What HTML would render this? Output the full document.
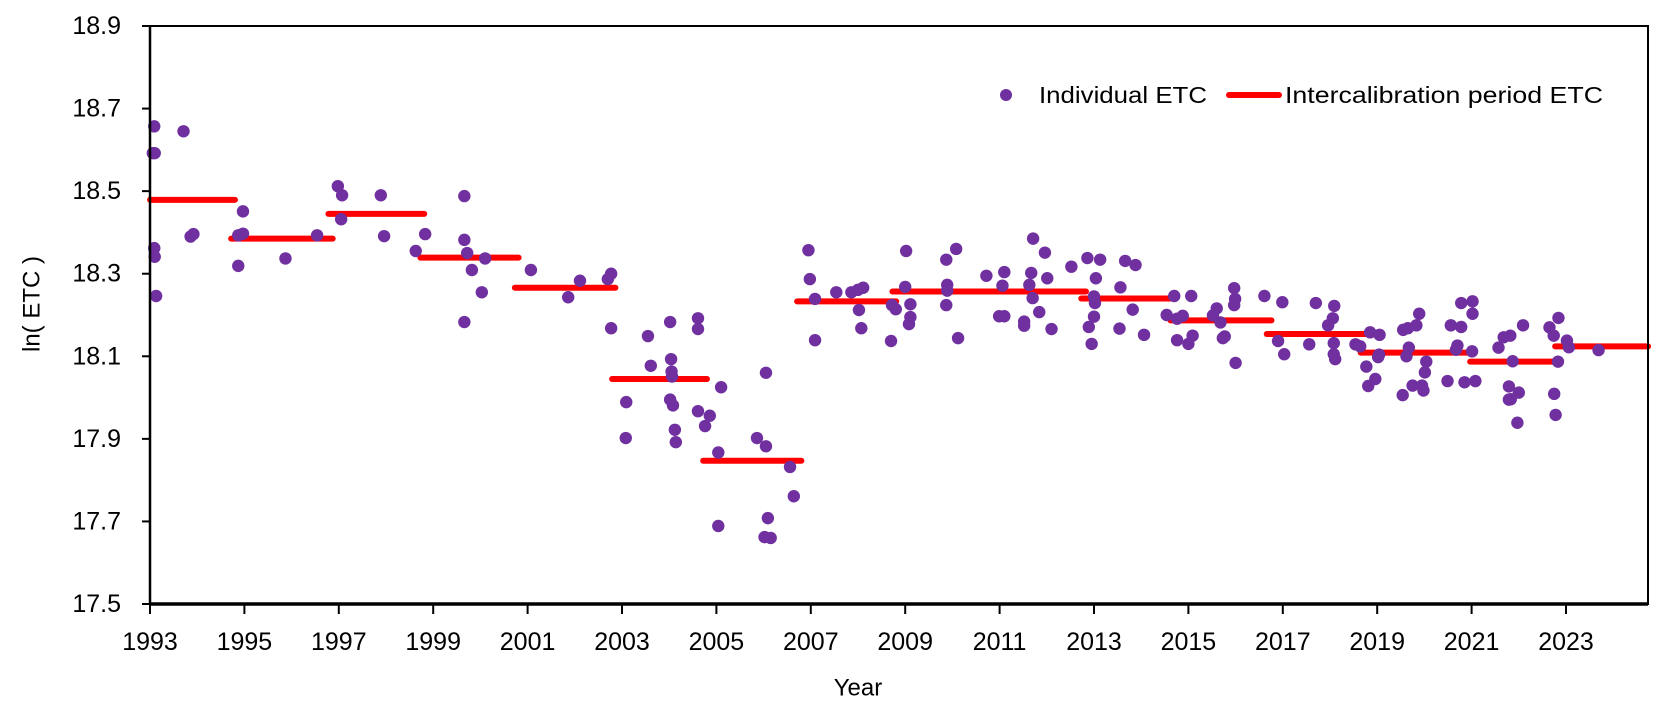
<!DOCTYPE html>
<html><head><meta charset="utf-8"><style>
html,body{margin:0;padding:0;background:#fff;}
svg{display:block;font-family:"Liberation Sans",sans-serif;}
</style></head><body>
<svg id="chart" width="1666" height="711" viewBox="0 0 1666 711" xmlns="http://www.w3.org/2000/svg">
<rect x="0" y="0" width="1666" height="711" fill="#fff"/>
<g id="marks"></g>
<g id="axes"></g>
<text x="32" y="304" transform="rotate(-90 32 304)" text-anchor="middle" dominant-baseline="central" font-size="24">ln( ETC )</text>
<text x="858" y="688" text-anchor="middle" dominant-baseline="central" font-size="24">Year</text>
<g>
<circle cx="1006" cy="95" r="6" fill="#7030A0"/>
<text x="1039" y="95" dominant-baseline="central" font-size="23" textLength="168" lengthAdjust="spacingAndGlyphs">Individual ETC</text>
<line x1="1229" y1="95" x2="1279" y2="95" stroke="#FF0000" stroke-width="6" stroke-linecap="round"/>
<text x="1285" y="95" dominant-baseline="central" font-size="23" textLength="318" lengthAdjust="spacingAndGlyphs">Intercalibration period ETC</text>
</g>
</svg>
<script>
const yTicks = [17.5, 17.7, 17.9, 18.1, 18.3, 18.5, 18.7, 18.9];
const xTicks = [1993,1995,1997,1999,2001,2003,2005,2007,2009,2011,2013,2015,2017,2019,2021,2023];
const pointYears = [1993.09,1993.06,1993.1,1993.09,1993.1,1993.13,1993.71,1993.86,1993.92,1994.87,1994.97,1994.87,1994.97,1995.87,1996.54,1996.98,1997.07,1997.05,1997.89,1997.96,1998.63,1998.83,1999.66,1999.66,1999.72,1999.66,1999.82,2000.1,2000.03,2001.07,
2002.11,2001.86,2002.7,2002.77,2002.77,2003.09,2003.08,2003.55,2003.61,2004.02,2004.04,2004.05,2004.06,2004.02,2004.08,2004.12,2004.14,2004.61,2004.61,2004.61,2004.86,2004.76,2005.04,2005.04,2005.1,2005.86,2006.05,2006.05,2006.09,2006.02,2006.15,2006.56,2006.64,
2006.95,2006.98,2007.09,2007.09,2007.54,2007.86,2008.0,2008.11,2008.02,2008.07,2008.7,2008.72,2008.8,2009.02,2009.0,2009.11,2009.11,2009.08,2009.87,2010.08,2009.89,2009.89,2009.87,2010.12,2010.72,2011.1,2011.06,2010.99,2011.1,2011.71,2011.96,2011.67,2011.63,2011.7,2012.01,2011.84,2011.52,2011.52,2012.1,2012.52,2012.86,2013.04,2013.0,2013.02,2013.0,2012.89,2012.95,2013.13,
2013.66,2013.88,2013.56,2013.82,2013.54,2014.06,2014.7,2015.06,2014.54,2014.76,2014.88,2014.76,2015.0,2015.09,2015.97,2015.99,2015.97,2015.6,2015.52,2015.68,2015.77,2015.73,2016.0,2016.61,2016.99,2016.9,2017.03,2017.7,2018.09,2018.06,2017.96,2017.56,2018.08,2018.08,2018.11,2018.54,2018.64,2018.85,2019.05,2019.04,2019.02,2018.77,2018.96,2018.81,
2019.89,2019.83,2019.65,2019.55,2019.67,2019.62,2020.04,2020.01,2019.75,2019.95,2019.98,2019.54,2020.78,2021.02,2021.02,2020.56,2020.78,2020.7,2020.67,2021.01,2020.49,2020.85,2021.08,2021.57,2022.09,2021.68,2021.82,2021.87,2021.79,2022.0,2021.83,2021.79,2021.97,2022.65,2022.74,2022.84,2022.83,2022.75,2022.78,2023.02,2023.06,2023.69];
const pointValues = [18.657,18.592,18.592,18.362,18.341,18.246,18.645,18.39,18.396,18.319,18.451,18.393,18.397,18.337,18.393,18.512,18.49,18.432,18.49,18.391,18.355,18.396,18.488,18.382,18.35,18.183,18.309,18.337,18.255,18.309,
18.283,18.243,18.287,18.30,18.168,17.989,17.902,18.149,18.077,18.183,18.093,18.063,18.051,17.995,17.981,17.922,17.892,18.192,18.166,17.967,17.956,17.931,17.867,17.689,18.025,17.902,17.882,18.06,17.708,17.662,17.66,17.832,17.761,
18.357,18.287,18.239,18.139,18.255,18.255,18.261,18.266,18.212,18.168,18.137,18.224,18.214,18.355,18.268,18.226,18.195,18.178,18.334,18.36,18.273,18.259,18.224,18.144,18.295,18.304,18.271,18.197,18.197,18.385,18.351,18.302,18.273,18.241,18.289,18.207,18.184,18.174,18.166,18.317,18.338,18.289,18.245,18.229,18.196,18.171,18.13,18.334,
18.331,18.321,18.267,18.213,18.167,18.152,18.246,18.246,18.2,18.191,18.198,18.139,18.13,18.15,18.265,18.239,18.224,18.216,18.199,18.182,18.148,18.144,18.084,18.246,18.231,18.137,18.105,18.229,18.222,18.192,18.175,18.129,18.132,18.105,18.093,18.129,18.124,18.158,18.152,18.104,18.098,18.075,18.045,18.028,
18.203,18.175,18.168,18.164,18.121,18.1,18.087,18.061,18.029,18.029,18.017,18.006,18.229,18.233,18.203,18.175,18.171,18.126,18.116,18.112,18.04,18.037,18.04,18.121,18.175,18.146,18.15,18.088,18.027,18.012,17.996,17.995,17.939,18.17,18.15,18.193,18.087,18.009,17.958,18.138,18.122,18.115];
const periodStarts = [1993.0,1994.72,1996.78,1998.73,2000.73,2002.79,2004.72,2006.71,2008.73,2012.73,2014.62,2016.66,2018.65,2020.97,2022.77];
const periodEnds   = [1994.8,1996.87,1998.81,2000.81,2002.86,2004.8,2006.8,2008.81,2012.83,2014.62,2016.76,2018.79,2021.01,2022.77,2024.74];
const periodValues = [18.479,18.385,18.445,18.339,18.266,18.045,17.847,18.233,18.257,18.24,18.187,18.154,18.109,18.087,18.124];

const NS = 'http://www.w3.org/2000/svg';
const L = 150, R = 1648, T = 26, B = 604;
const X0 = 1993, XPX = 47.2, Y0 = 17.5, Y1 = 18.9;
function xs(v){ return L + (v - X0) * XPX; }
function ys(v){ return B - (v - Y0) / (Y1 - Y0) * (B - T); }
function mk(tag, attrs, parent){ const e = document.createElementNS(NS, tag); for (const k in attrs) e.setAttribute(k, attrs[k]); parent.appendChild(e); return e; }
const axes = document.getElementById('axes');
const marks = document.getElementById('marks');

let frame = mk('rect', {x:L, y:T, width:R-L, height:B-T, fill:'none', stroke:'#000', 'stroke-width':2}, axes);


let yAx = mk('line', {x1:L, y1:T, x2:L, y2:B, stroke:'#000', 'stroke-width':2.5}, axes);


let xAx = mk('line', {x1:L, y1:B, x2:R, y2:B, stroke:'#000', 'stroke-width':3.5}, axes);



yTicks.forEach(t => {
  const y = ys(t);
  const tk = mk('line', {x1:L-8, y1:y, x2:L, y2:y, stroke:'#000', 'stroke-width':2}, axes);
  
  
  const tx = mk('text', {x:121, y:y, 'text-anchor':'end', 'dominant-baseline':'central', 'font-size':25}, axes);
  tx.textContent = t.toFixed(1);
  
  
});
xTicks.forEach(t => {
  const x = xs(t);
  const tk = mk('line', {x1:x, y1:B, x2:x, y2:B+10, stroke:'#000', 'stroke-width':2}, axes);
  
  
  const tx = mk('text', {x:x, y:642, 'text-anchor':'middle', 'dominant-baseline':'central', 'font-size':25}, axes);
  tx.textContent = String(t);
  
  
});

periodValues.forEach((v, i) => {
  const ln = mk('line', {x1:xs(periodStarts[i]), y1:ys(v), x2:xs(periodEnds[i]), y2:ys(v), stroke:'#FF0000', 'stroke-width':6, 'stroke-linecap':'round'}, marks);
  
  
});
pointValues.forEach((v, i) => {
  const c = mk('circle', {cx:xs(pointYears[i]), cy:ys(v), r:6.2, fill:'#7030A0'}, marks);
  
  
});
</script>
</body></html>
